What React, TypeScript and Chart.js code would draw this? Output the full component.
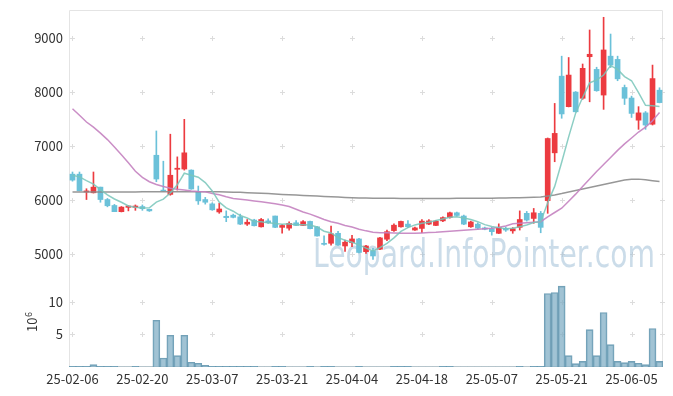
import { useEffect, useRef } from 'react';
import { Chart, registerables } from 'chart.js';
Chart.register(...registerables);

const dates = [
  '25-02-06','25-02-07','25-02-10','25-02-11','25-02-12','25-02-13','25-02-14','25-02-17','25-02-18','25-02-19',
  '25-02-20','25-02-21','25-02-24','25-02-25','25-02-26','25-02-27','25-02-28','25-03-04','25-03-05','25-03-06',
  '25-03-07','25-03-10','25-03-11','25-03-12','25-03-13','25-03-14','25-03-17','25-03-18','25-03-19','25-03-20',
  '25-03-21','25-03-24','25-03-25','25-03-26','25-03-27','25-03-28','25-03-31','25-04-01','25-04-02','25-04-03',
  '25-04-04','25-04-07','25-04-08','25-04-09','25-04-10','25-04-11','25-04-14','25-04-15','25-04-16','25-04-17',
  '25-04-18','25-04-21','25-04-22','25-04-23','25-04-24','25-04-25','25-04-28','25-04-29','25-04-30','25-05-02',
  '25-05-07','25-05-08','25-05-09','25-05-12','25-05-13','25-05-14','25-05-15','25-05-16','25-05-19','25-05-20',
  '25-05-21','25-05-22','25-05-23','25-05-26','25-05-27','25-05-28','25-05-29','25-05-30','25-06-02','25-06-04',
  '25-06-05','25-06-09','25-06-10','25-06-11','25-06-12'
];

const opens = [
  6480,6480,6150,6135,6240,6010,5900,5785,5865,5865,
  5880,5830,6830,6185,6105,6570,6575,6555,6150,6010,
  5930,5780,5700,5720,5690,5555,5630,5505,5615,5705,
  5495,5480,5580,5530,5605,5505,5200,5200,5385,5150,
  5210,5280,5045,5060,5090,5275,5435,5505,5555,5445,
  5475,5555,5530,5615,5680,5765,5705,5505,5555,5485,
  5470,5385,5475,5430,5495,5755,5660,5755,5990,6875,
  8295,7730,8000,7885,8655,8420,7945,8665,8605,8085,
  7890,7480,7615,7405,8035
];

const closes = [
  6370,6172,6170,6240,6010,5895,5785,5870,5890,5890,
  5840,5800,6390,6170,6460,6590,6875,6205,5985,5960,
  5820,5835,5675,5680,5555,5590,5525,5640,5580,5495,
  5530,5570,5530,5600,5470,5335,5180,5375,5165,5220,
  5280,5030,5150,4965,5300,5415,5535,5605,5505,5485,
  5610,5615,5610,5675,5765,5715,5555,5595,5480,5460,
  5415,5495,5445,5470,5640,5630,5765,5495,7140,7235,
  7595,8315,7635,8440,8700,8025,8780,8500,8245,7885,
  7605,7615,7390,8250,7805
];

const highs = [
  6520,6520,6210,6520,6240,6030,5920,5880,5895,5910,
  5910,5830,7280,6720,7220,6800,7495,6560,6260,6050,
  5950,5940,5800,5740,5740,5640,5645,5660,5655,5705,
  5550,5595,5620,5620,5610,5510,5340,5520,5420,5260,
  5345,5290,5160,5105,5310,5445,5560,5610,5620,5500,
  5640,5640,5625,5690,5780,5780,5720,5610,5580,5500,
  5495,5560,5500,5490,5800,5790,5845,5790,7150,7790,
  8665,8640,8010,8520,9150,8460,9385,9075,8665,8130,
  7925,7730,7640,8500,8080
];

const lows = [
  6350,6170,6010,6130,5960,5875,5785,5780,5800,5810,
  5810,5790,6340,6165,6090,6185,6555,6200,5920,5925,
  5810,5755,5600,5670,5545,5530,5520,5500,5570,5490,
  5385,5445,5525,5525,5465,5330,5165,5165,5160,5050,
  5135,5020,5010,4900,5080,5250,5420,5500,5490,5440,
  5395,5545,5525,5600,5665,5705,5545,5495,5460,5450,
  5350,5380,5420,5385,5445,5610,5570,5395,5755,6710,
  7515,7725,7630,7865,7820,8015,7680,8455,8210,7770,
  7530,7310,7310,7390,7800
];

// volume in millions of shares
const volumes = [
  0.12,0.12,0.12,0.37,0.12,0.12,0.12,0.01,0.01,0.12,
  0.01,0.01,7.15,1.38,4.85,1.74,4.85,0.72,0.57,0.26,
  0.12,0.12,0.12,0.12,0.12,0.12,0.12,0.01,0.01,0.12,
  0.12,0.01,0.01,0.01,0.12,0.01,0.12,0.12,0.01,0.01,
  0.01,0.12,0.01,0.01,0.01,0.01,0.12,0.12,0.12,0.01,
  0.01,0.01,0.01,0.12,0.12,0.01,0.01,0.01,0.01,0.01,
  0.01,0.01,0.01,0.01,0.12,0.01,0.12,0.12,11.24,11.39,
  12.36,1.74,0.52,0.87,5.72,1.74,8.33,3.43,0.87,0.67,
  0.87,0.57,0.37,5.88,0.87
];

const ma5 = [
  6460,6430,6360,6295,6195,6097,6020,5960,5890,5866,
  5855,5858,5962,6018,6132,6282,6497,6460,6423,6323,
  6169,5961,5855,5794,5713,5667,5605,5598,5578,5566,
  5554,5563,5541,5545,5540,5501,5423,5392,5305,5255,
  5220,5170,5110,5060,5120,5200,5300,5420,5490,5540,
  5570,5590,5620,5650,5680,5690,5670,5640,5600,5545,
  5510,5490,5470,5480,5505,5540,5585,5600,5950,6253,
  6700,7170,7610,7900,8170,8223,8316,8489,8420,8287,
  8210,7990,7755,7749,7733
];

const ma20 = [
  7690,7570,7445,7350,7240,7120,6985,6840,6690,6535,
  6420,6340,6290,6250,6220,6200,6185,6170,6160,6155,
  6120,6100,6060,6030,6015,6000,5985,5970,5950,5930,
  5907,5880,5830,5780,5740,5690,5640,5600,5570,5530,
  5500,5460,5430,5405,5395,5395,5390,5385,5385,5388,
  5392,5398,5405,5415,5425,5432,5440,5450,5460,5470,
  5478,5495,5520,5560,5570,5580,5590,5600,5690,5770,
  5850,5980,6110,6250,6390,6530,6660,6790,6920,7040,
  7150,7260,7350,7470,7620
];

const ma60 = [
  6148,6148,6149,6149,6150,6150,6150,6151,6151,6151,
  6152,6152,6153,6153,6154,6154,6154,6155,6155,6155,
  6154,6152,6150,6147,6143,6138,6132,6126,6120,6113,
  6105,6098,6092,6086,6080,6074,6068,6062,6056,6050,
  6045,6040,6037,6035,6033,6032,6032,6031,6031,6030,
  6030,6030,6030,6031,6031,6032,6032,6033,6034,6035,
  6036,6038,6040,6042,6045,6048,6052,6058,6075,6095,
  6120,6148,6176,6205,6232,6260,6290,6318,6345,6370,
  6385,6388,6375,6360,6345
];

const priceTicks = [5000, 6000, 7000, 8000, 9000];
const volumeTicks = [5, 10];
const labelEvery = 10;

const UP = '#ec3b40';
const DOWN = '#6bc1d9';
const FONT = "'Noto Sans CJK KR', 'Noto Sans', sans-serif";

const candleColors = opens.map((o, i) => (closes[i] >= o ? UP : DOWN));

const decorPlugin = {
  id: 'decor',
  beforeDatasetsDraw(chart: any) {
    const { ctx, chartArea: a, scales } = chart;
    ctx.save();
    // frame
    ctx.strokeStyle = '#e4e4e4';
    ctx.lineWidth = 1;
    ctx.beginPath();
    ctx.moveTo(Math.round(a.left) + 0.5, Math.round(a.bottom));
    ctx.lineTo(Math.round(a.left) + 0.5, Math.round(a.top) + 0.5);
    ctx.lineTo(Math.round(a.right) - 0.5, Math.round(a.top) + 0.5);
    ctx.lineTo(Math.round(a.right) - 0.5, Math.round(a.bottom));
    ctx.stroke();
    ctx.strokeStyle = '#d8d8d8';
    ctx.beginPath();
    ctx.moveTo(a.left, Math.round(a.bottom) - 0.5);
    ctx.lineTo(a.right, Math.round(a.bottom) - 0.5);
    ctx.stroke();

    // grid crosses
    const xs: number[] = [];
    for (let i = 0; i < dates.length; i += labelEvery) xs.push(scales.x.getPixelForValue(i));
    xs.push(a.right - 1);
    const ys: number[] = [];
    priceTicks.forEach((v) => ys.push(scales.y.getPixelForValue(v)));
    volumeTicks.forEach((v) => ys.push(scales.yv.getPixelForValue(v)));
    ctx.strokeStyle = '#dcdcdc';
    ctx.beginPath();
    xs.forEach((x) => {
      ys.forEach((y) => {
        const px = Math.round(x) + 0.5;
        const py = Math.round(y) + 0.5;
        ctx.moveTo(px - 2.5, py);
        ctx.lineTo(px + 2.5, py);
        ctx.moveTo(px, py - 2.5);
        ctx.lineTo(px, py + 2.5);
      });
    });
    ctx.stroke();

    // watermark
    const text = 'Leopard.InfoPointer.com';
    ctx.font = "40px 'DejaVu Sans'";
    const w = ctx.measureText(text).width;
    ctx.translate(313, 267);
    ctx.scale(342 / w, 0.97);
    ctx.fillStyle = 'rgba(160,192,215,0.55)';
    ctx.textBaseline = 'alphabetic';
    ctx.fillText(text, 0, 0);
    ctx.restore();
  },
  afterDraw(chart: any) {
    const { ctx } = chart;
    ctx.save();
    ctx.fillStyle = '#333';
    ctx.translate(37, 332);
    ctx.rotate(-Math.PI / 2);
    ctx.textBaseline = 'alphabetic';
    ctx.font = `13px ${FONT}`;
    ctx.fillText('10', 0, 0);
    const w = ctx.measureText('10').width;
    ctx.font = `9px ${FONT}`;
    ctx.fillText('6', w + 0.5, -5);
    ctx.restore();
  },
};

const fitY = (s: any) => {
  s.width = 69;
  s.paddingTop = 0;
  s.paddingBottom = 0;
};

export default function App() {
  const ref = useRef<HTMLCanvasElement>(null);
  useEffect(() => {
    if (!ref.current) return;
    Chart.defaults.font.family = FONT;
    Chart.defaults.font.size = 13;
    Chart.defaults.color = '#333';
    const chart = new Chart(ref.current, {
      type: 'bar',
      data: {
        labels: dates,
        datasets: [
          {
            type: 'bar',
            label: 'wick',
            data: dates.map((_, i) => [lows[i], highs[i]]) as any,
            backgroundColor: candleColors,
            barThickness: 1,
            grouped: false,
            yAxisID: 'y',
            order: 5,
          },
          {
            type: 'bar',
            label: 'body',
            data: dates.map((_, i) => [opens[i], closes[i]]) as any,
            backgroundColor: candleColors,
            barThickness: 5,
            grouped: false,
            yAxisID: 'y',
            order: 4,
          },
          {
            type: 'line',
            label: 'MA60',
            data: ma60,
            borderColor: 'rgba(140,140,140,0.9)',
            borderWidth: 1.5,
            pointRadius: 0,
            yAxisID: 'y',
            order: 3,
          },
          {
            type: 'line',
            label: 'MA20',
            data: ma20,
            borderColor: 'rgba(196,130,192,0.9)',
            borderWidth: 1.5,
            pointRadius: 0,
            yAxisID: 'y',
            order: 2,
          },
          {
            type: 'line',
            label: 'MA5',
            data: ma5,
            borderColor: 'rgba(120,198,186,0.85)',
            borderWidth: 1.5,
            pointRadius: 0,
            yAxisID: 'y',
            order: 1,
          },
          {
            type: 'bar',
            label: 'Volume',
            data: volumes,
            backgroundColor: 'rgba(125,172,195,0.72)',
            borderColor: 'rgba(90,145,170,0.85)',
            borderWidth: 1,
            barPercentage: 1,
            categoryPercentage: 1,
            grouped: false,
            yAxisID: 'yv',
            order: 6,
          },
        ],
      } as any,
      options: {
        responsive: false,
        animation: false,
        events: [],
        devicePixelRatio: 1,
        layout: { padding: { top: 10, right: 10, left: 0, bottom: 0 } },
        plugins: { legend: { display: false }, tooltip: { enabled: false } },
        scales: {
          x: {
            type: 'category',
            offset: true,
            grid: { display: false, drawTicks: false },
            border: { display: false },
            ticks: {
              autoSkip: false,
              maxRotation: 0,
              padding: 4,
              color: '#333',
              font: { size: 13, family: FONT },
              callback: function (this: any, val: any, index: number) {
                return index % labelEvery === 0 ? this.getLabelForValue(val) : null;
              },
            },
            afterFit: (s: any) => {
              s.height = 29;
              s.paddingLeft = 0;
              s.paddingRight = 0;
            },
          },
          yv: {
            type: 'linear',
            position: 'left',
            stack: 'panels',
            stackWeight: 87,
            min: 0,
            max: 13.3,
            grid: { display: false, drawTicks: false },
            border: { display: false },
            ticks: {
              padding: 6,
              color: '#333',
              font: { size: 13, family: FONT },
              callback: (v: any) => String(v),
            },
            afterBuildTicks: (s: any) => { s.ticks = volumeTicks.map((v) => ({ value: v })); },
            afterFit: fitY,
          },
          y: {
            type: 'linear',
            position: 'left',
            stack: 'panels',
            stackWeight: 270,
            min: 4520,
            max: 9520,
            grid: { display: false, drawTicks: false },
            border: { display: false },
            ticks: {
              padding: 6,
              color: '#333',
              font: { size: 13, family: FONT },
              callback: (v: any) => String(v),
            },
            afterBuildTicks: (s: any) => { s.ticks = priceTicks.map((v) => ({ value: v })); },
            afterFit: fitY,
          },
        } as any,
      },
      plugins: [decorPlugin],
    });
    return () => chart.destroy();
  }, []);
  return (
    <div style={{ position: 'absolute', left: 0, top: 0, width: 673, height: 396, background: '#fff' }}>
      <canvas ref={ref} width={673} height={396} style={{ display: 'block' }} />
    </div>
  );
}
